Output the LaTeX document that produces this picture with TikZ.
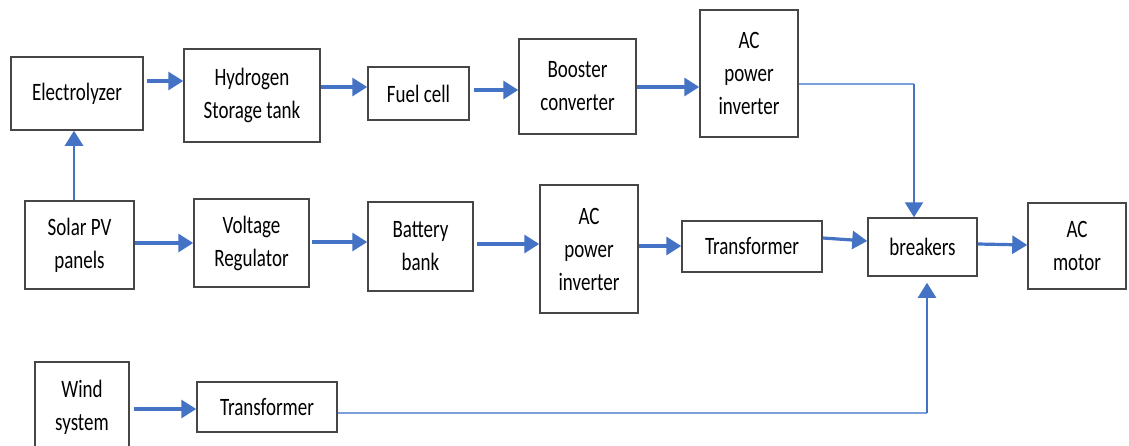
\documentclass[tikz,border=0pt]{standalone}
\usepackage{fontspec}
\setmainfont[FakeStretch=0.76]{Carlito}
\usetikzlibrary{arrows.meta}

\definecolor{flowblue}{RGB}{68,114,196}
\definecolor{paleblue}{RGB}{125,160,220}
\definecolor{boxgray}{RGB}{70,70,70}

\begin{document}
\begin{tikzpicture}[x=1pt, y=-1pt, every node/.style={font=\fontsize{25}{33}\selectfont}]
    \tikzset{block/.style={rectangle, draw=boxgray, line width=1.5pt, fill=white, align=center, inner sep=0pt}}
    \tikzset{line/.style={draw=flowblue, line width=3.2pt, -{Triangle[length=15pt, width=18pt]}}}
    \tikzset{wire/.style={draw=paleblue, line width=1.6pt}}

    \useasboundingbox (0,0) rectangle (1129,445);

    % hydrogen branch
    \node [block, minimum width=132pt, minimum height=73pt] (elec) at (77,93.5) {Electrolyzer};
    \node [block, minimum width=136pt, minimum height=93pt] (tank) at (252,95.5) {Hydrogen\\Storage tank};
    \node [block, minimum width=101pt, minimum height=53pt] (fuel) at (418.5,93.5) {Fuel cell};
    \node [block, minimum width=117pt, minimum height=95pt] (boost) at (577.5,86.5) {Booster\\converter};
    \node [block, minimum width=98pt, minimum height=127pt] (invA) at (749,73.5) {AC\\power\\inverter};

    % solar branch
    \node [block, minimum width=109pt, minimum height=88pt] (pv) at (79.5,245) {Solar PV\\panels};
    \node [block, minimum width=115pt, minimum height=88pt] (reg) at (251.5,243) {Voltage\\Regulator};
    \node [block, minimum width=105pt, minimum height=89pt] (batt) at (420.5,246.5) {Battery\\bank};
    \node [block, minimum width=98pt, minimum height=128pt] (invB) at (589,249) {AC\\power\\inverter};
    \node [block, minimum width=140pt, minimum height=51pt] (trB) at (752,246.5) {Transformer};
    \node [block, minimum width=109pt, minimum height=58pt] (brk) at (922.5,247) {breakers};
    \node [block, minimum width=98pt, minimum height=86pt] (motor) at (1077,246) {AC\\motor};

    % wind branch
    \node [block, minimum width=94pt, minimum height=90pt] (wind) at (82,407) {Wind\\system};
    \node [block, minimum width=140pt, minimum height=50pt] (trW) at (267,407) {Transformer};

    \coordinate (cA) at (914,84);
    \coordinate (cW) at (927,413);

    \path [line, shorten <=3pt] ([yshift=12.5pt]elec.east) -- ([yshift=14.5pt]tank.west);
    \path [line] ([yshift=8.5pt]tank.east) -- ([yshift=6.5pt]fuel.west);
    \path [line, shorten <=4pt] ([yshift=3.5pt]fuel.east) -- ([yshift=-3.5pt]boost.west);
    \path [line] ([yshift=-0.5pt]boost.east) -- ([yshift=-13.5pt]invA.west);
    \draw [wire] ([yshift=-10.5pt]invA.east) -- (cA);
    \path [line, line width=2.4pt] (cA) -- (cA |- brk.north);

    \path [line, line width=2.6pt] ([xshift=-5.5pt]pv.north) -- ([xshift=-3pt]elec.south);
    \path [line] ([yshift=2pt]pv.east) -- (reg.west);
    \path [line, shorten <=2pt] ([yshift=1pt]reg.east) -- ([yshift=4.5pt]batt.west);
    \path [line, shorten <=3pt] ([yshift=2.5pt]batt.east) -- ([yshift=5pt]invB.west);
    \path [line] ([yshift=3pt]invB.east) -- ([yshift=0.5pt]trB.west);
    \path [line] ([yshift=8.5pt]trB.east) -- ([yshift=6pt]brk.west);
    \path [line] ([yshift=3pt]brk.east) -- ([yshift=1pt]motor.west);

    \path [line, shorten <=4pt] ([yshift=-2pt]wind.east) -- ([yshift=-2pt]trW.west);
    \draw [wire] ([yshift=-6pt]trW.east) -- (cW);
    \path [line, line width=2.4pt, shorten >=6pt] (cW) -- (cW |- brk.south);
\end{tikzpicture}
\end{document}
